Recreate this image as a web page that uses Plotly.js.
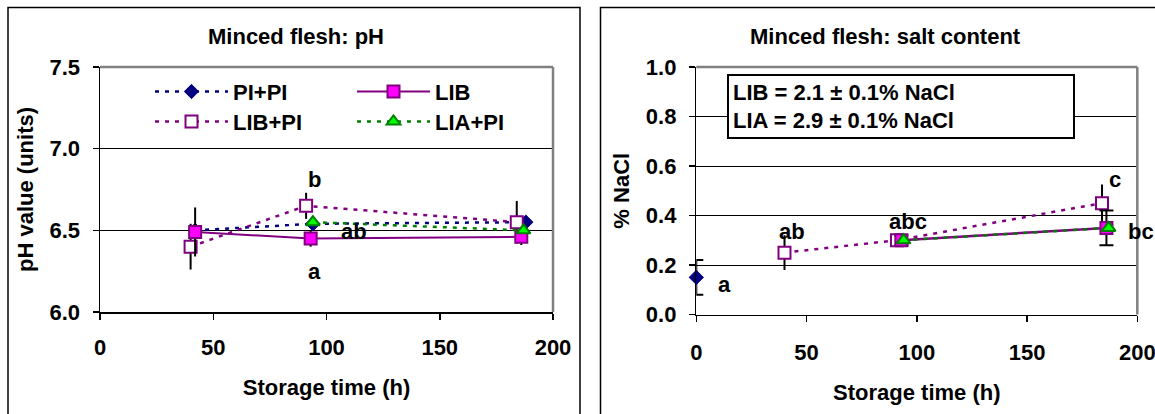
<!DOCTYPE html>
<html>
<head>
<meta charset="utf-8">
<script src="https://cdn.plot.ly/plotly-3.0.1.min.js"></script>
<style>html,body{margin:0;padding:0;background:#fff;}#chart{width:1155px;height:414px;}</style>
</head>
<body>
<div id="chart"></div>
<script>
// ---- Left panel: pH ----
const phPIPI_x = [42, 94, 188];
const phPIPI_y = [6.50, 6.54, 6.55];
const phLIB_x = [42, 93, 186];
const phLIB_y = [6.49, 6.45, 6.46];
const phLIB_err = [0.15, 0.05, 0.05];
const phLIBPI_x = [40, 91, 184];
const phLIBPI_y = [6.40, 6.65, 6.55];
const phLIBPI_err = [0.14, 0.08, 0.13];
const phLIAPI_x = [94, 187];
const phLIAPI_y = [6.55, 6.50];
const phLetters = ['b', 'ab', 'a'];
const phLetterX = [94.5, 112, 94.5];
const phLetterY = [6.81, 6.49, 6.25];

// ---- Right panel: salt content ----
const saltPIPI_x = [0];
const saltPIPI_y = [0.15];
const saltPIPI_err = [0.07];
const saltLIBPI_x = [40, 91, 184];
const saltLIBPI_y = [0.25, 0.30, 0.45];
const saltLIBPI_err = [0.07, 0.0, 0.075];
const saltLIB_x = [93, 186];
const saltLIB_y = [0.30, 0.35];
const saltLIB_err = [0.02, 0.07];
const saltLIAPI_x = [94, 187];
const saltLIAPI_y = [0.30, 0.35];
const saltLetters = ['a', 'ab', 'abc', 'c', 'bc'];
const saltLetterX = [13, 43.5, 96, 190, 195];
const saltLetterY = [0.12, 0.335, 0.375, 0.545, 0.335];
const saltLetterAnchor = ['center', 'center', 'center', 'center', 'left'];

const seriesNames = ['PI+PI', 'LIB', 'LIB+PI', 'LIA+PI'];
const phTitle = 'Minced flesh: pH';
const saltTitle = 'Minced flesh: salt content';
const saltNote = 'LIB = 2.1 ± 0.1% NaCl<br>LIA = 2.9 ± 0.1% NaCl';

const W = 1155, H = 414;
const FONT = {family: 'Liberation Sans, Arial, sans-serif', size: 22, color: '#000', weight: 'bold'};
const px = v => v / W;
const py = v => (H - v) / H;

const NAVY = '#000080', PURPLE = '#800080', MAGENTA = '#FF00FF', GREEN = '#008000', LIME = '#00FF00';
const DOT = '4px,6px';

function errs(arr, w) {
  return {type: 'data', array: arr, visible: true, color: '#000', thickness: 2, width: w};
}

const traces = [
  // left panel
  {x: phPIPI_x, y: phPIPI_y, xaxis: 'x', yaxis: 'y', name: seriesNames[0], legend: 'legend',
   mode: 'lines+markers', line: {color: NAVY, width: 2.5, dash: DOT},
   marker: {symbol: 'diamond', size: 11, color: NAVY, line: {color: NAVY, width: 1}}},
  {x: phLIBPI_x, y: phLIBPI_y, xaxis: 'x', yaxis: 'y', name: seriesNames[2], legend: 'legend3',
   mode: 'lines+markers', line: {color: PURPLE, width: 2.5, dash: DOT},
   marker: {symbol: 'square', size: 12, color: '#fff', line: {color: PURPLE, width: 2}},
   error_y: errs(phLIBPI_err, 0)},
  {x: phLIB_x, y: phLIB_y, xaxis: 'x', yaxis: 'y', name: seriesNames[1], legend: 'legend2',
   mode: 'lines+markers', line: {color: PURPLE, width: 2},
   marker: {symbol: 'square', size: 12, color: MAGENTA, line: {color: PURPLE, width: 2}},
   error_y: errs(phLIB_err, 0)},
  {x: phLIAPI_x, y: phLIAPI_y, xaxis: 'x', yaxis: 'y', name: seriesNames[3], legend: 'legend4',
   mode: 'lines+markers', line: {color: GREEN, width: 2.5, dash: DOT},
   marker: {symbol: 'triangle-up', size: 12, color: LIME, line: {color: GREEN, width: 2}}},
  // right panel
  {x: saltPIPI_x, y: saltPIPI_y, xaxis: 'x2', yaxis: 'y2', name: seriesNames[0], showlegend: false,
   mode: 'lines+markers', line: {color: NAVY, width: 2.5, dash: DOT}, cliponaxis: false,
   marker: {symbol: 'diamond', size: 11, color: NAVY, line: {color: NAVY, width: 1}},
   error_y: errs(saltPIPI_err, 7)},
  {x: saltLIBPI_x, y: saltLIBPI_y, xaxis: 'x2', yaxis: 'y2', name: seriesNames[2], showlegend: false,
   mode: 'lines+markers', line: {color: PURPLE, width: 2.5, dash: DOT},
   marker: {symbol: 'square', size: 12, color: '#fff', line: {color: PURPLE, width: 2}},
   error_y: errs(saltLIBPI_err, 0)},
  {x: saltLIB_x, y: saltLIB_y, xaxis: 'x2', yaxis: 'y2', name: seriesNames[1], showlegend: false,
   mode: 'lines+markers', line: {color: PURPLE, width: 2.5},
   marker: {symbol: 'square', size: 12, color: MAGENTA, line: {color: PURPLE, width: 2}},
   error_y: errs(saltLIB_err, 7)},
  {x: saltLIAPI_x, y: saltLIAPI_y, xaxis: 'x2', yaxis: 'y2', name: seriesNames[3], showlegend: false,
   mode: 'lines+markers', line: {color: GREEN, width: 2.5, dash: DOT},
   marker: {symbol: 'triangle-up', size: 12, color: LIME, line: {color: GREEN, width: 2}}}
];

const annotations = [];
phLetters.forEach((t, i) => annotations.push({x: phLetterX[i], y: phLetterY[i], xref: 'x', yref: 'y', text: t,
  showarrow: false, font: FONT, xanchor: 'center', yanchor: 'middle'}));
saltLetters.forEach((t, i) => annotations.push({x: saltLetterX[i], y: saltLetterY[i], xref: 'x2', yref: 'y2', text: t,
  showarrow: false, font: FONT, xanchor: saltLetterAnchor[i], yanchor: 'middle'}));
annotations.push({x: px(296), y: py(36), xref: 'paper', yref: 'paper', text: phTitle, showarrow: false,
  font: FONT, xanchor: 'center', yanchor: 'middle'});
annotations.push({x: px(885), y: py(36), xref: 'paper', yref: 'paper', text: saltTitle, showarrow: false,
  font: FONT, xanchor: 'center', yanchor: 'middle'});
annotations.push({x: px(727), y: py(106.5), xref: 'paper', yref: 'paper', text: saltNote, showarrow: false,
  font: FONT, xanchor: 'left', yanchor: 'middle', align: 'left', bgcolor: '#fff', bordercolor: '#000',
  borderwidth: 2, borderpad: 4, width: 336, height: 53});

function axisX(domain, anchor, standoff) {
  return {domain: domain, anchor: anchor, range: [0, 200], dtick: 50, tick0: 0, showgrid: false, zeroline: false,
    showline: true, linecolor: '#000', linewidth: 1.5, ticks: 'outside', ticklen: 6, tickwidth: 1.5, tickcolor: '#000',
    tickfont: FONT, ticklabelstandoff: standoff, ticklabeloverflow: 'allow', automargin: false,
    title: {text: 'Storage time (h)', font: FONT, standoff: 20}};
}
function axisY(domain, anchor, range, dtick, title) {
  return {domain: domain, anchor: anchor, range: range, dtick: dtick, tick0: range[0], tickformat: '.1f',
    showgrid: true, gridcolor: '#000', gridwidth: 1, zeroline: false,
    showline: true, linecolor: '#000', linewidth: 1.5, ticks: 'outside', ticklen: 6, tickwidth: 1.5, tickcolor: '#000',
    tickfont: FONT, ticklabelstandoff: 8, ticklabeloverflow: 'allow', automargin: false,
    title: {text: title, font: FONT, standoff: 10}};
}

function frame(xr, yr) {
  return [
    {type: 'line', xref: xr + ' domain', yref: yr + ' domain', x0: 0, x1: 1, y0: 1, y1: 1, line: {color: '#808080', width: 2.5}},
    {type: 'line', xref: xr + ' domain', yref: yr + ' domain', x0: 1, x1: 1, y0: 0, y1: 1, line: {color: '#808080', width: 2.5}}
  ];
}

const legendBase = {bgcolor: 'rgba(0,0,0,0)', borderwidth: 0, font: FONT, itemwidth: 73,
  xanchor: 'left', yanchor: 'middle', orientation: 'v', tracegroupgap: 0};

const layout = {
  width: W, height: H,
  margin: {l: 0, r: 0, t: 0, b: 0},
  paper_bgcolor: '#fff', plot_bgcolor: '#fff',
  font: FONT,
  xaxis: axisX([px(100), px(553)], 'y', 9),
  yaxis: axisY([py(312), py(67)], 'x', [6, 7.5], 0.5, 'pH value (units)'),
  xaxis2: axisX([px(696.3), px(1137.3)], 'y2', 12),
  yaxis2: axisY([py(314.5), py(67)], 'x2', [0, 1], 0.2, '% NaCl'),
  legend: Object.assign({}, legendBase, {x: px(150), y: py(91.7)}),
  legend2: Object.assign({}, legendBase, {x: px(352), y: py(91.7)}),
  legend3: Object.assign({}, legendBase, {x: px(150), y: py(121.7)}),
  legend4: Object.assign({}, legendBase, {x: px(352), y: py(121.7)}),
  annotations: annotations,
  shapes: [
    {type: 'rect', xref: 'paper', yref: 'paper', x0: px(8), x1: px(580), y0: -0.1, y1: py(7.5), line: {color: '#000', width: 1.5}},
    {type: 'rect', xref: 'paper', yref: 'paper', x0: px(600.5), x1: 1.1, y0: -0.1, y1: py(7.5), line: {color: '#000', width: 1.5}}
  ].concat(frame('x', 'y'), frame('x2', 'y2')),
  showlegend: true
};

Plotly.newPlot('chart', traces, layout, {displayModeBar: false, staticPlot: true});
</script>
</body>
</html>
